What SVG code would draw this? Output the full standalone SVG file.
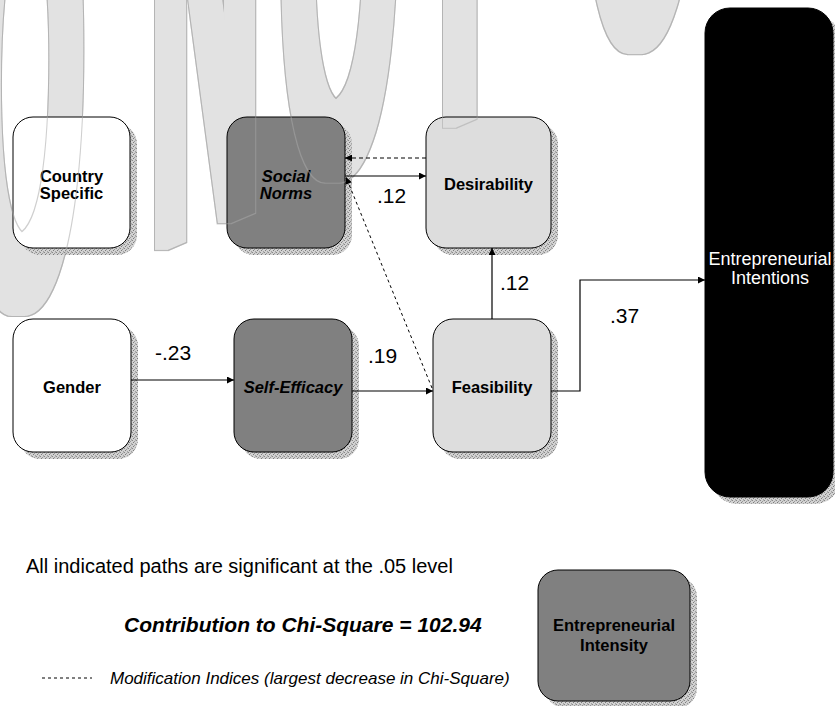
<svg xmlns="http://www.w3.org/2000/svg" xmlns:xlink="http://www.w3.org/1999/xlink" width="835" height="706" viewBox="0 0 835 706">
<defs>
<style>
.wm{font-family:"Liberation Sans",Arial,sans-serif;font-weight:bold;font-size:150px;fill:#000}
.shadow{fill:url(#stip)}
.box{stroke:#000;stroke-width:1}
.lbl{font-family:"Liberation Sans",Arial,sans-serif;font-size:16.5px;font-weight:bold;text-anchor:middle;fill:#000}
.it{font-style:italic}
.num{font-family:"Liberation Sans",Arial,sans-serif;font-size:21px;fill:#000}
.conn{fill:none;stroke:#000;stroke-width:1.2}
.dash{stroke-dasharray:4 3;stroke-width:1}
.leg{font-family:"Liberation Sans",Arial,sans-serif;fill:#000}
</style>
<pattern id="stip" width="4" height="4" patternUnits="userSpaceOnUse">
<rect width="4" height="4" fill="#d2d2d2"/>
<rect x="0" y="0" width="1" height="1" fill="#888"/>
<rect x="2" y="1" width="1" height="1" fill="#999"/>
<rect x="1" y="2" width="1" height="1" fill="#7c7c7c"/>
<rect x="3" y="3" width="1" height="1" fill="#a2a2a2"/>
<rect x="3" y="0" width="1" height="1" fill="#b5b5b5"/>
</pattern>
<marker id="ah" viewBox="0 0 10 10" refX="10" refY="5" markerWidth="9" markerHeight="7" markerUnits="userSpaceOnUse" orient="auto">
<path d="M0,0 L10,5 L0,10 z" fill="#000"/>
</marker>
<filter id="wmF" x="-5%" y="-5%" width="110%" height="110%" color-interpolation-filters="sRGB">
<feMorphology in="SourceAlpha" operator="dilate" radius="6 2" result="d"/>
<feMorphology in="d" operator="dilate" radius="1" result="d2"/>
<feFlood flood-color="#c4c4c4" result="c1"/>
<feComposite in="c1" in2="d2" operator="in" result="edge"/>
<feFlood flood-color="#e2e2e2" result="c2"/>
<feComposite in="c2" in2="d" operator="in" result="fill"/>
<feMerge><feMergeNode in="edge"/><feMergeNode in="fill"/></feMerge>
</filter>
<filter id="wmE" x="-5%" y="-5%" width="110%" height="110%" color-interpolation-filters="sRGB">
<feMorphology in="SourceAlpha" operator="dilate" radius="6 2" result="d"/>
<feMorphology in="d" operator="dilate" radius="1" result="d2"/>
<feComposite in="d2" in2="d" operator="out" result="ring"/>
<feFlood flood-color="#a8a8a8" flood-opacity="0.55" result="c"/>
<feComposite in="c" in2="ring" operator="in"/>
</filter>
<text id="wmtext" class="wm" x="-33 60 151 281 414 520 584" y="0" transform="translate(0,316.6) skewY(-23) scale(1,4.5)">O NOT C</text>
</defs>

<g id="watermark-fill" filter="url(#wmF)">
<use xlink:href="#wmtext"/>
</g>

<g id="node-country">
<rect class="shadow" x="20" y="124" width="117" height="131" rx="20"/>
<rect class="box" x="13" y="117" width="117" height="131" rx="20" fill="#fff"/>
<text class="lbl" x="71.5" y="182">Country</text>
<text class="lbl" x="71.5" y="199">Specific</text>
</g>

<g id="node-social">
<rect class="shadow" x="234" y="124" width="118" height="131" rx="20"/>
<rect class="box" x="227" y="117" width="118" height="131" rx="20" fill="#808080"/>
<text class="lbl it" x="286" y="182">Social</text>
<text class="lbl it" x="286" y="199">Norms</text>
</g>

<g id="node-desirability">
<rect class="shadow" x="433" y="124" width="125" height="131" rx="20"/>
<rect class="box" x="426" y="117" width="125" height="131" rx="20" fill="#dddddd"/>
<text class="lbl" x="488.5" y="190">Desirability</text>
</g>

<g id="node-gender">
<rect class="shadow" x="20" y="326" width="118" height="133" rx="20"/>
<rect class="box" x="13" y="319" width="118" height="133" rx="20" fill="#fff"/>
<text class="lbl" x="72" y="393">Gender</text>
</g>

<g id="node-selfefficacy">
<rect class="shadow" x="241" y="326" width="118" height="133" rx="20"/>
<rect class="box" x="234" y="319" width="118" height="133" rx="20" fill="#808080"/>
<text class="lbl it" x="293" y="393">Self-Efficacy</text>
</g>

<g id="node-feasibility">
<rect class="shadow" x="440" y="326" width="118" height="133" rx="20"/>
<rect class="box" x="433" y="319" width="118" height="133" rx="20" fill="#dddddd"/>
<text class="lbl" x="492" y="393">Feasibility</text>
</g>

<g id="node-intentions">
<rect class="shadow" x="712" y="15" width="128" height="489" rx="25"/>
<rect class="box" x="705" y="8" width="128" height="489" rx="25" fill="#000"/>
<text class="leg" x="770" y="265" font-size="18" text-anchor="middle" style="fill:#fff">Entrepreneurial</text>
<text class="leg" x="770" y="284" font-size="18" text-anchor="middle" style="fill:#fff">Intentions</text>
</g>

<g id="node-intensity">
<rect class="shadow" x="545" y="577" width="152" height="131" rx="20"/>
<rect class="box" x="538" y="570" width="152" height="131" rx="20" fill="#808080"/>
<text class="lbl" x="614" y="631">Entrepreneurial</text>
<text class="lbl" x="614" y="651">Intensity</text>
</g>

<g id="watermark-line" filter="url(#wmE)">
<use xlink:href="#wmtext"/>
</g>

<g id="connectors">
<path class="conn" d="M131,380 H234" marker-end="url(#ah)"/>
<path class="conn" d="M352,391 H433" marker-end="url(#ah)"/>
<path class="conn" d="M345,176 H426" marker-end="url(#ah)"/>
<path class="conn dash" d="M426,158 H345" marker-end="url(#ah)"/>
<path class="conn" d="M432,388 L346,177" marker-end="url(#ah)" style="stroke-dasharray:3 3;stroke-width:1"/>
<path class="conn" d="M492,319 V248" marker-end="url(#ah)"/>
<path class="conn" d="M551,391 H580 V280 H705" marker-end="url(#ah)"/>
</g>

<g id="labels">
<text class="num" x="155" y="360">-.23</text>
<text class="num" x="368" y="363">.19</text>
<text class="num" x="377" y="203">.12</text>
<text class="num" x="500" y="290">.12</text>
<text class="num" x="610" y="323">.37</text>
</g>

<g id="legend">
<text class="leg" x="26" y="573" font-size="20">All indicated paths are significant at the .05 level</text>
<text class="leg" x="124" y="632" font-size="21" font-weight="bold" font-style="italic">Contribution to Chi-Square = 102.94</text>
<line x1="42" y1="678" x2="92" y2="678" stroke="#000" stroke-width="1" stroke-dasharray="3 3"/>
<text class="leg" x="110" y="684" font-size="17" font-style="italic">Modification Indices (largest decrease in Chi-Square)</text>
</g>
</svg>
